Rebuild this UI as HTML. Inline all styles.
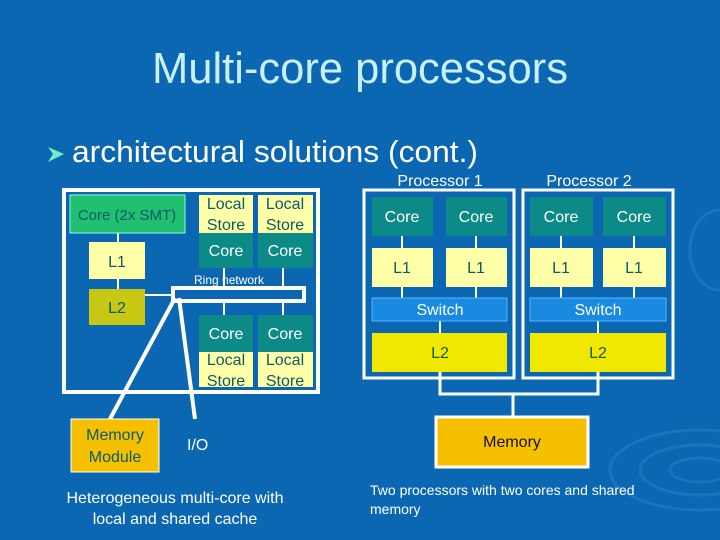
<!DOCTYPE html>
<html><head><style>
html,body{margin:0;padding:0;background:#0b67b2;}
svg{display:block;font-family:"Liberation Sans",sans-serif;}
</style></head><body>
<svg width="720" height="540" viewBox="0 0 720 540" xmlns="http://www.w3.org/2000/svg">
<rect width="720" height="540" fill="#0b67b2"/>
<g fill="none" stroke="#3a8ad0" stroke-width="3" opacity="0.35">
<ellipse cx="700" cy="470" rx="90" ry="40"/><ellipse cx="700" cy="470" rx="60" ry="25"/><ellipse cx="700" cy="470" rx="30" ry="12"/>
<ellipse cx="720" cy="250" rx="30" ry="40"/>
</g>
<text x="360" y="83" text-anchor="middle" font-size="44" fill="#c8f0ff" textLength="416" lengthAdjust="spacingAndGlyphs">Multi-core processors</text>
<polygon points="48,147 64,154 48,162 53,154" fill="#6ff0c0"/>
<text x="72" y="162" font-size="31" fill="#fff" textLength="406" lengthAdjust="spacingAndGlyphs">architectural solutions (cont.)</text>

<!-- left diagram -->
<g stroke="#fff" stroke-width="4" fill="none">
<rect x="64" y="190" width="254" height="202"/>
<rect x="173" y="288" width="131" height="13"/>
<line x1="175" y1="298" x2="110" y2="419"/>
<line x1="179" y1="298" x2="195" y2="419"/>
</g>
<g stroke="#fff" stroke-width="2">
<line x1="118" y1="233" x2="118" y2="242"/><line x1="118" y1="279" x2="118" y2="289"/>
<line x1="145" y1="295" x2="173" y2="295"/>
<line x1="224" y1="268" x2="224" y2="288"/><line x1="283" y1="268" x2="283" y2="288"/>
<line x1="224" y1="301" x2="224" y2="315"/><line x1="283" y1="301" x2="283" y2="315"/>
</g>
<rect x="70" y="195" width="115" height="38" fill="#20c070" stroke="#8fd" stroke-width="1"/>
<text x="127" y="220" text-anchor="middle" font-size="15" fill="#0c5a6a">Core (2x SMT)</text>
<rect x="89" y="242" width="56" height="37" fill="#ffffa8"/>
<text x="117" y="267" text-anchor="middle" font-size="16" fill="#0c5a6a">L1</text>
<rect x="89" y="289" width="56" height="36" fill="#c8c814"/>
<text x="117" y="313" text-anchor="middle" font-size="16" fill="#0c5a6a">L2</text>
<g font-size="16" text-anchor="middle">
<rect x="199" y="195" width="54" height="38" fill="#ffffa8"/><rect x="258" y="195" width="55" height="38" fill="#ffffa8"/>
<rect x="199" y="233" width="54" height="35" fill="#0b8a88"/><rect x="258" y="233" width="55" height="35" fill="#0b8a88"/>
<text x="226" y="209" fill="#0c5a6a">Local</text><text x="285" y="209" fill="#0c5a6a">Local</text>
<text x="226" y="230" fill="#0c5a6a">Store</text><text x="285" y="230" fill="#0c5a6a">Store</text>
<text x="226" y="256" fill="#fff">Core</text><text x="285" y="256" fill="#fff">Core</text>
<rect x="199" y="315" width="54" height="37" fill="#0b8a88"/><rect x="258" y="315" width="55" height="37" fill="#0b8a88"/>
<rect x="199" y="352" width="54" height="35" fill="#ffffa8"/><rect x="258" y="352" width="55" height="35" fill="#ffffa8"/>
<text x="226" y="339" fill="#fff">Core</text><text x="285" y="339" fill="#fff">Core</text>
<text x="226" y="365" fill="#0c5a6a">Local</text><text x="285" y="365" fill="#0c5a6a">Local</text>
<text x="226" y="386" fill="#0c5a6a">Store</text><text x="285" y="386" fill="#0c5a6a">Store</text>
</g>
<text x="194" y="284" font-size="12" fill="#fff">Ring network</text>
<rect x="71" y="419" width="88" height="53" fill="#f5c000" stroke="#fff" stroke-width="1"/>
<text x="115" y="440" text-anchor="middle" font-size="16" fill="#0c5a6a">Memory</text>
<text x="115" y="462" text-anchor="middle" font-size="16" fill="#0c5a6a">Module</text>
<text x="187" y="450" font-size="16" fill="#fff">I/O</text>
<text x="175" y="503" text-anchor="middle" font-size="16" fill="#fff">Heterogeneous multi-core with</text>
<text x="175" y="524" text-anchor="middle" font-size="16" fill="#fff">local and shared cache</text>

<!-- right diagram -->
<text x="440" y="186" text-anchor="middle" font-size="16" fill="#fff">Processor 1</text>
<text x="589" y="186" text-anchor="middle" font-size="16" fill="#fff">Processor 2</text>
<g stroke="#fff" stroke-width="3" fill="none">
<rect x="364" y="190" width="150" height="188"/>
<rect x="523" y="190" width="150" height="188"/>
<polyline points="440,372 440,394 598,394 598,372"/>
<line x1="513" y1="394" x2="513" y2="417"/>
</g>
<g stroke="#fff" stroke-width="2">
<line x1="402" y1="236" x2="402" y2="298"/><line x1="476" y1="236" x2="476" y2="298"/>
<line x1="561" y1="236" x2="561" y2="298"/><line x1="634" y1="236" x2="634" y2="298"/>
<line x1="440" y1="321" x2="440" y2="333"/><line x1="598" y1="321" x2="598" y2="333"/>
</g>
<g font-size="16" text-anchor="middle">
<rect x="372" y="197" width="61" height="39" fill="#0b8a88"/><rect x="446" y="197" width="61" height="39" fill="#0b8a88"/>
<rect x="530" y="197" width="63" height="39" fill="#0b8a88"/><rect x="603" y="197" width="63" height="39" fill="#0b8a88"/>
<text x="402" y="222" fill="#fff">Core</text><text x="476" y="222" fill="#fff">Core</text>
<text x="561" y="222" fill="#fff">Core</text><text x="634" y="222" fill="#fff">Core</text>
<rect x="372" y="248" width="61" height="39" fill="#ffffa8"/><rect x="446" y="248" width="61" height="39" fill="#ffffa8"/>
<rect x="530" y="248" width="63" height="39" fill="#ffffa8"/><rect x="603" y="248" width="63" height="39" fill="#ffffa8"/>
<text x="402" y="273" fill="#0c5a6a">L1</text><text x="476" y="273" fill="#0c5a6a">L1</text>
<text x="561" y="273" fill="#0c5a6a">L1</text><text x="634" y="273" fill="#0c5a6a">L1</text>
<rect x="372" y="298" width="135" height="23" fill="#1a8ae0" stroke="#5ab0ff" stroke-width="1"/>
<rect x="530" y="298" width="136" height="23" fill="#1a8ae0" stroke="#5ab0ff" stroke-width="1"/>
<text x="440" y="315" fill="#fff">Switch</text><text x="598" y="315" fill="#fff">Switch</text>
<rect x="372" y="333" width="135" height="39" fill="#f0e800"/><rect x="530" y="333" width="136" height="39" fill="#f0e800"/>
<text x="440" y="358" fill="#1a5a3a">L2</text><text x="598" y="358" fill="#1a5a3a">L2</text>
<rect x="436" y="417" width="152" height="50" fill="#f5c000" stroke="#fff" stroke-width="3"/>
<text x="512" y="447" fill="#111">Memory</text>
</g>
<text x="370" y="495" font-size="14" fill="#fff">Two processors with two cores and shared</text>
<text x="370" y="514" font-size="14" fill="#fff">memory</text>
</svg>
</body></html>
